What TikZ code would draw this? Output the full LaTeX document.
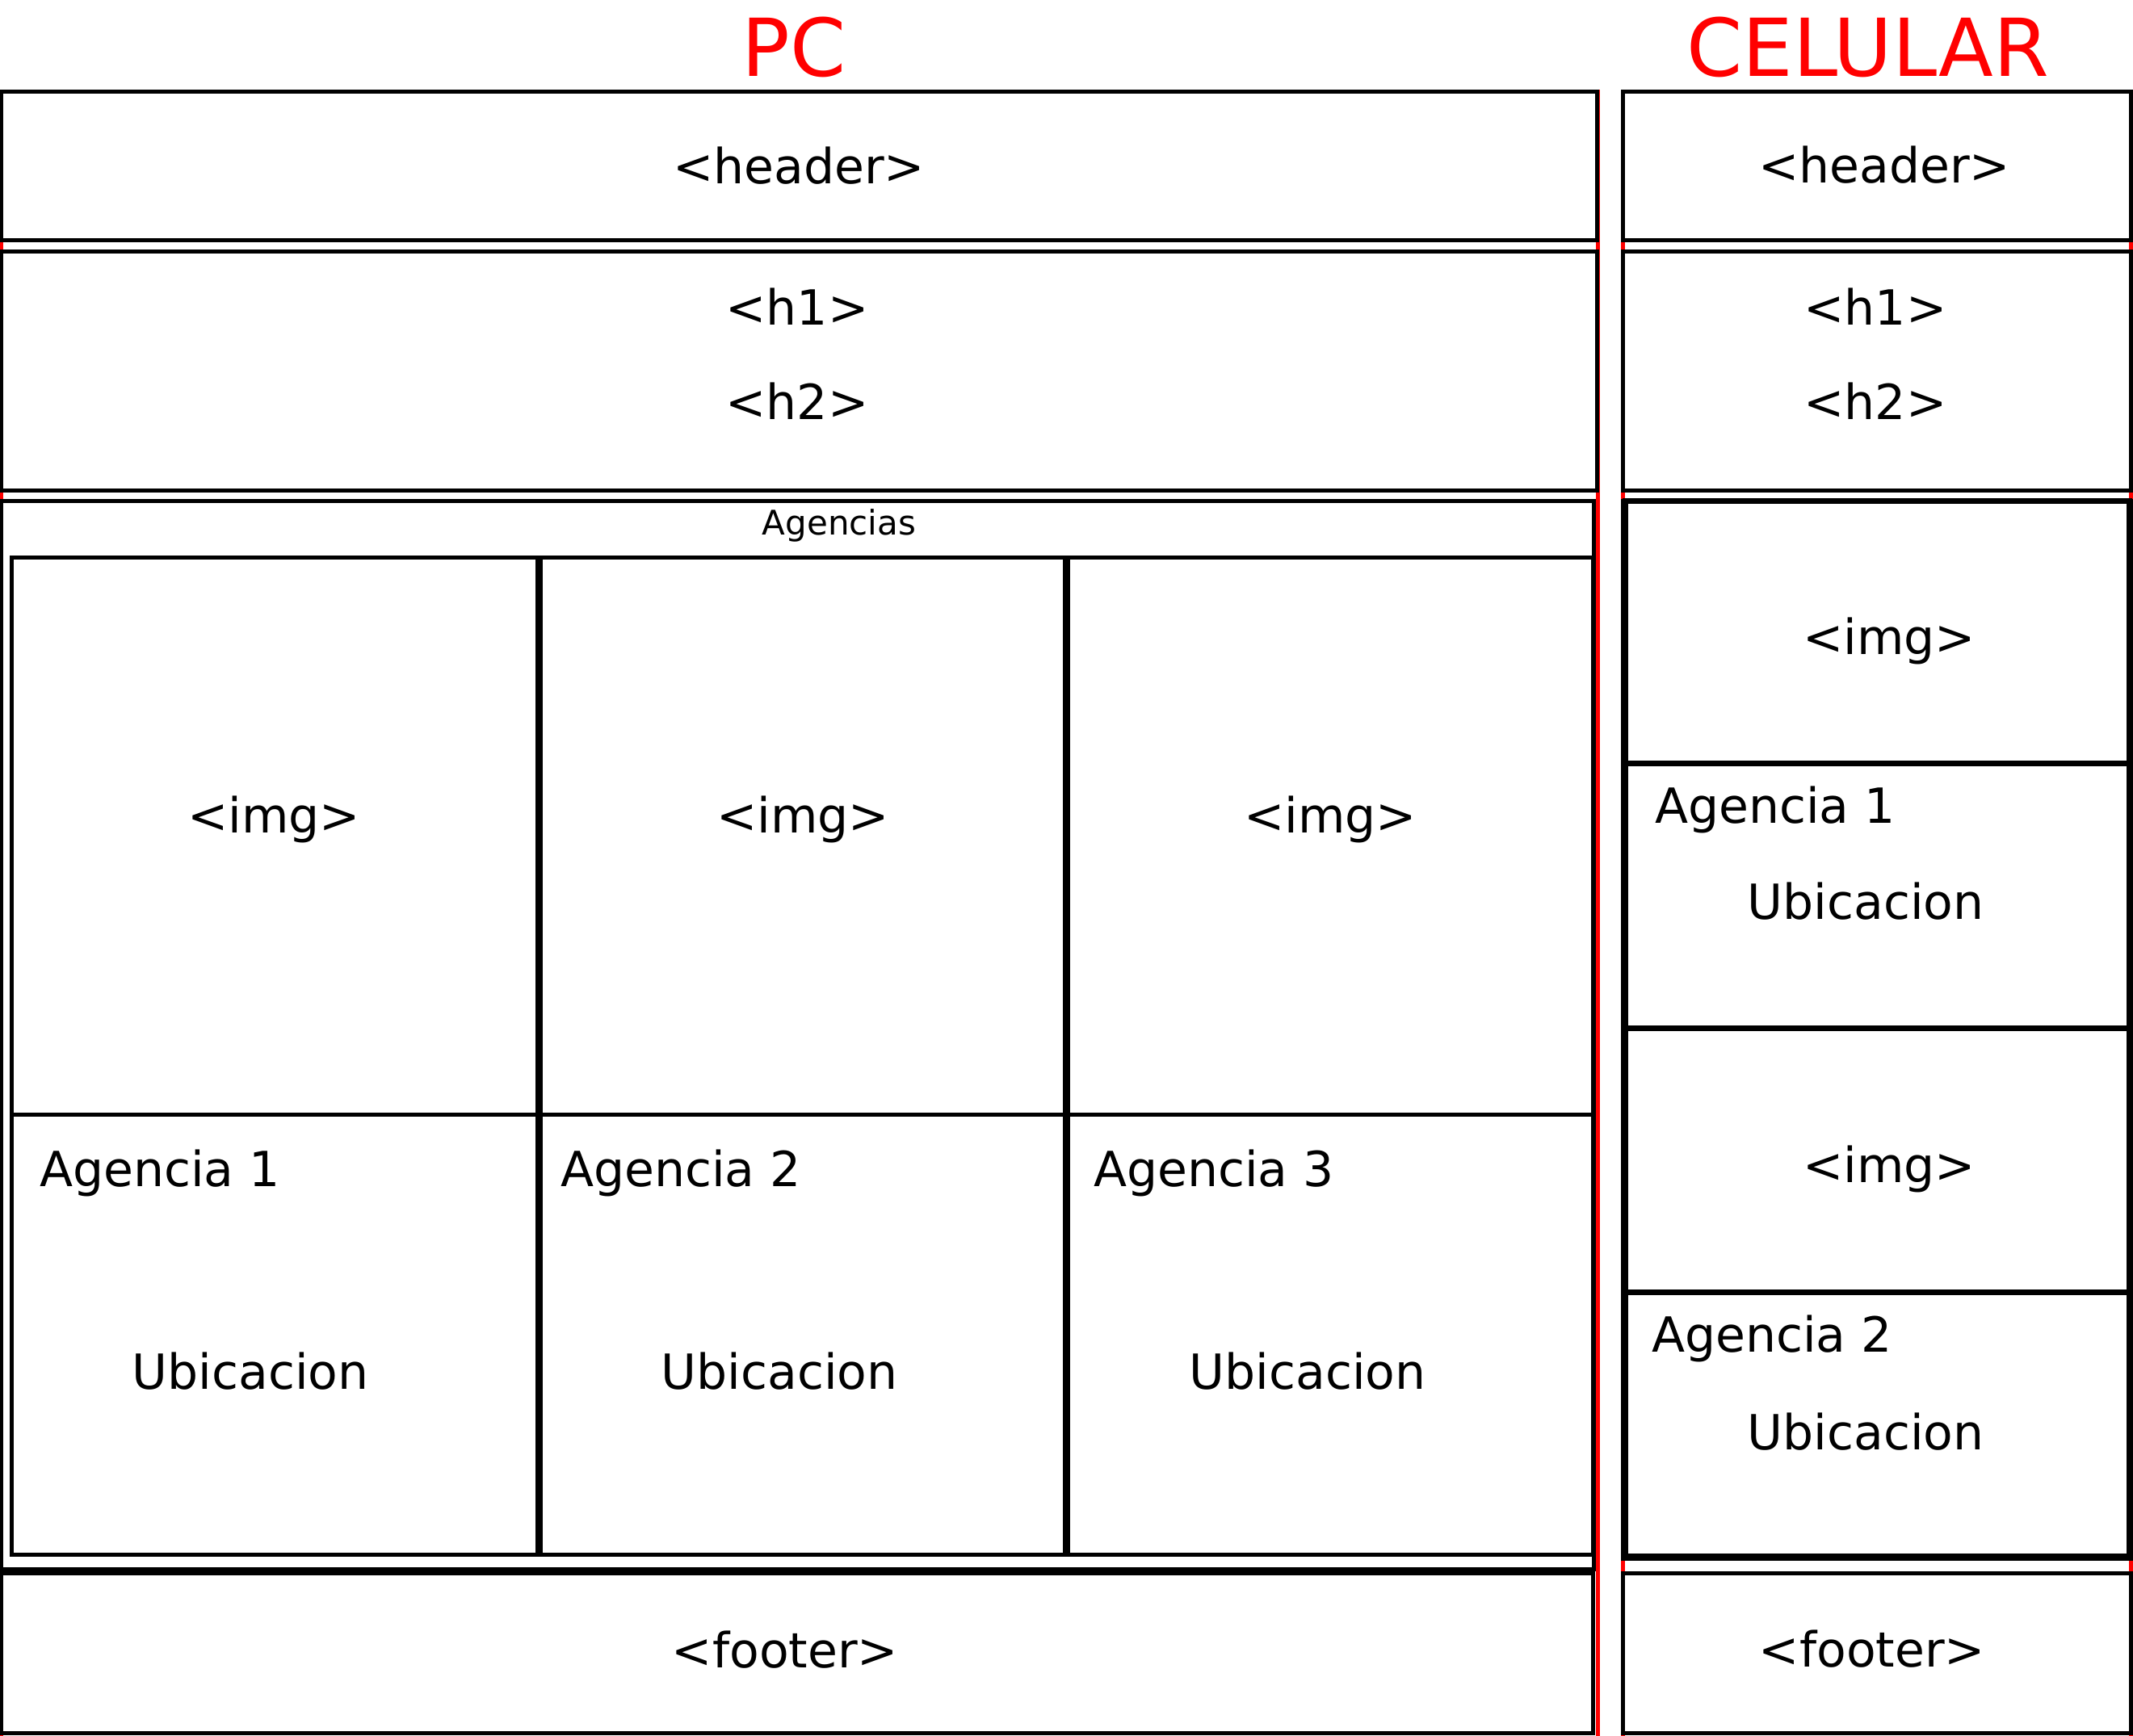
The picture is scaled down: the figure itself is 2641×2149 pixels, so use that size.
\documentclass[tikz,border=0pt]{standalone}
\usepackage{fontspec}
\setmainfont{DejaVu Sans}
\begin{document}
\begin{tikzpicture}[x=1pt,y=-1pt,
  box/.style={draw=black,line width=5pt},
  mbox/.style={draw=black,line width=7pt},
  frame/.style={draw=red,line width=5pt},
  lbl/.style={inner sep=0pt,anchor=base,font=\fontsize{60}{72}\selectfont},
  lblw/.style={inner sep=0pt,anchor=base west,font=\fontsize{60}{72}\selectfont},
  small/.style={inner sep=0pt,anchor=base,font=\fontsize{42}{50}\selectfont},
  title/.style={inner sep=0pt,anchor=base,text=red,font=\fontsize{99}{118}\selectfont}]
\useasboundingbox (0,0) rectangle (2641,2149);
\fill[white] (0,0) rectangle (2641,2149);
% red frames behind
\draw[frame] (1,113) rectangle (1978,2152);
\draw[frame] (2009,113) rectangle (2638,2152);
% titles
\node[title] (tpc) at (983,94) {PC};
\node[title] (tcel) at (2313,94) {CELULAR};
% ---------- PC ----------
\draw[box] (1,113) rectangle (1977,297);
\draw[box] (1,311) rectangle (1977,607);
\draw[box] (1,620) rectangle (1973,1943);
\draw[box] (14,690) rectangle (665,1380);
\draw[box] (14,1380) rectangle (665,1925);
\draw[box] (669,690) rectangle (1318,1380);
\draw[box] (669,1380) rectangle (1318,1925);
\draw[box] (1322,690) rectangle (1972,1380);
\draw[box] (1322,1380) rectangle (1972,1925);
\draw[box] (1,1948) rectangle (1972,2146);
\node[lbl] (pchead) at (989,227) {<header>};
\node[lbl] (pch1) at (987,402) {<h1>};
\node[lbl] (pch2) at (987,519) {<h2>};
\node[small] (pcag) at (1039,662) {Agencias};
\node[lbl] (pcimg1) at (339,1031) {<img>};
\node[lbl] (pcimg2) at (994,1031) {<img>};
\node[lbl] (pcimg3) at (1647,1031) {<img>};
\node[lblw] (pcag1) at (49,1469) {Agencia 1};
\node[lblw] (pcag2) at (694,1469) {Agencia 2};
\node[lblw] (pcag3) at (1354,1469) {Agencia 3};
\node[lbl] (pcub1) at (310,1720) {Ubicacion};
\node[lbl] (pcub2) at (965,1720) {Ubicacion};
\node[lbl] (pcub3) at (1619,1720) {Ubicacion};
\node[lbl] (pcfoot) at (972,2065) {<footer>};
% ---------- CELULAR ----------
\draw[box] (2009,113) rectangle (2638,297);
\draw[box] (2009,311) rectangle (2638,607);
\draw[box] (2009,620) rectangle (2638,1930);
\draw[mbox] (2012,620) rectangle (2636,945);
\draw[mbox] (2012,945) rectangle (2636,1273);
\draw[mbox] (2012,1273) rectangle (2636,1600);
\draw[mbox] (2012,1600) rectangle (2636,1927);
\draw[box] (2009,1948) rectangle (2638,2146);
\node[lbl] (mhead) at (2333,226) {<header>};
\node[lbl] (mh1) at (2322,402) {<h1>};
\node[lbl] (mh2) at (2322,519) {<h2>};
\node[lbl] (mimg1) at (2339,810) {<img>};
\node[lblw] (mag1) at (2049,1019) {Agencia 1};
\node[lbl] (mub1) at (2310,1138) {Ubicacion};
\node[lbl] (mimg2) at (2339,1464) {<img>};
\node[lblw] (mag2) at (2045,1674) {Agencia 2};
\node[lbl] (mub2) at (2310,1795) {Ubicacion};
\node[lbl] (mfoot) at (2318,2064) {<footer>};
\end{tikzpicture}
\end{document}
